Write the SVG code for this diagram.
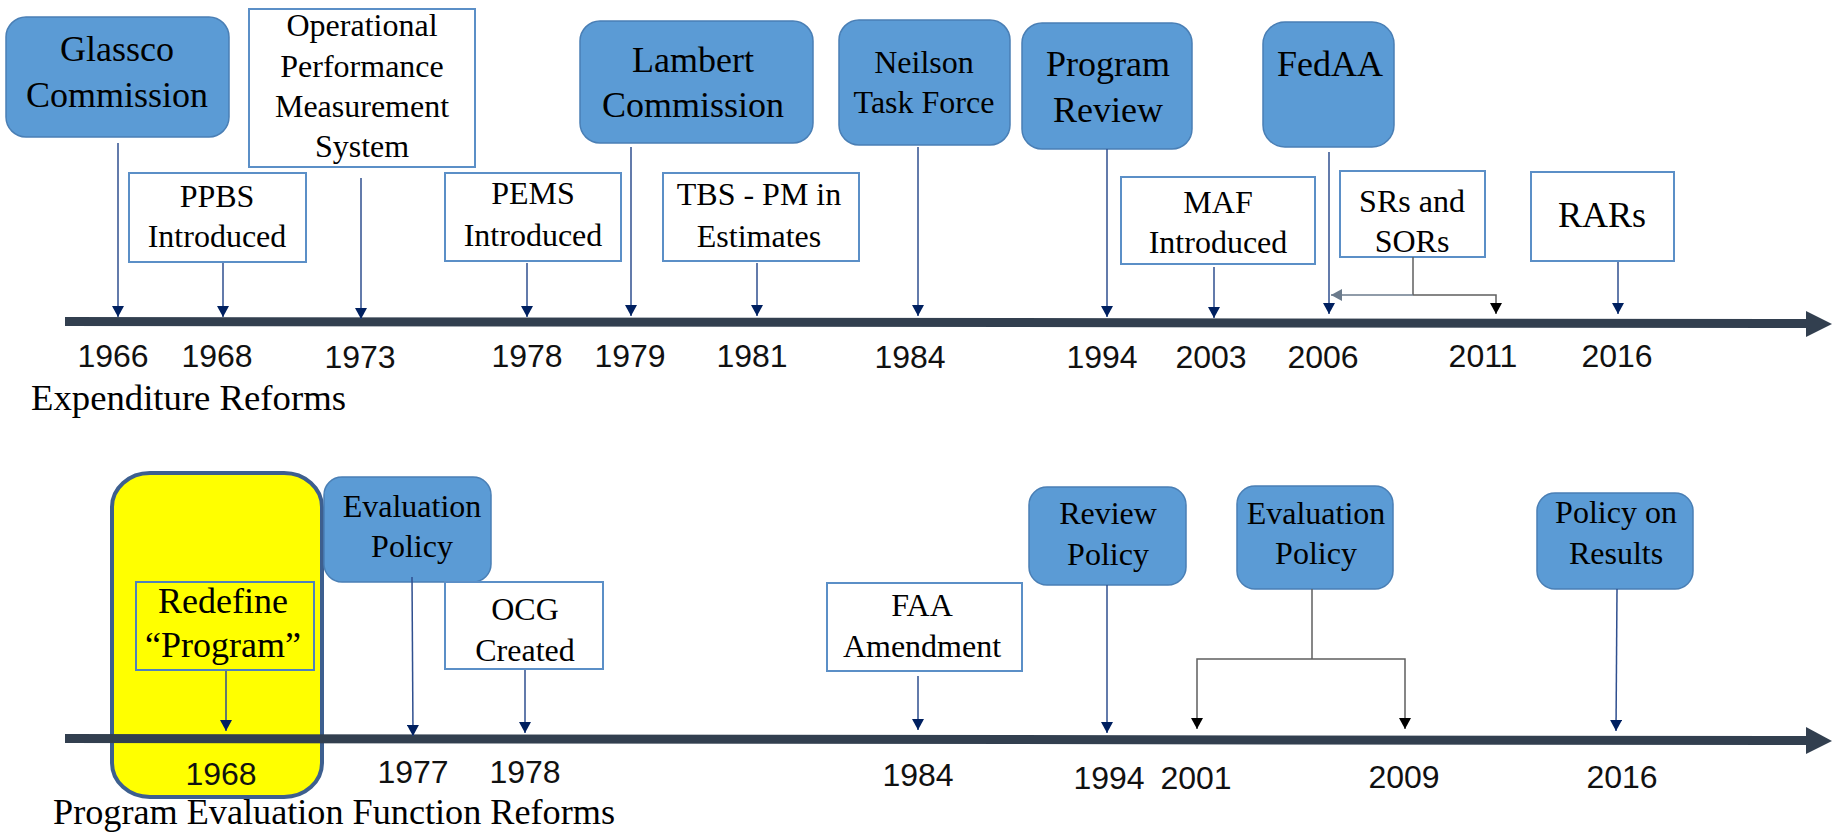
<svg xmlns="http://www.w3.org/2000/svg" width="1839" height="832" viewBox="0 0 1839 832">
<defs>
<style>
.fill{fill:#5b9bd5;stroke:#4a7fb5;stroke-width:1.5}
.out{fill:#fff;stroke:#5b8fc7;stroke-width:2}
.t{font-family:"Liberation Serif",serif;font-size:32px;fill:#000;text-anchor:middle}
.tb{font-family:"Liberation Serif",serif;font-size:36px;fill:#000;text-anchor:middle}
.yr{font-family:"Liberation Sans",Arial,sans-serif;font-size:32px;fill:#111;text-anchor:middle}
.ttl{font-family:"Liberation Serif",serif;font-size:36px;fill:#000}
.ax{stroke:#323f4f;stroke-width:9;fill:none}
.axh{fill:#323f4f}
.c{stroke:#2f4f8f;stroke-width:1.5;fill:none;marker-end:url(#mn)}
.g{stroke:#5f5f5f;stroke-width:1.5;fill:none}
.gk{stroke:#5f5f5f;stroke-width:1.5;fill:none;marker-end:url(#mk)}
</style>
<marker id="mn" markerUnits="userSpaceOnUse" markerWidth="12" markerHeight="12" refX="11" refY="6" orient="auto"><path d="M0,0 L11,6 L0,12 z" fill="#002060"/></marker>
<marker id="mk" markerUnits="userSpaceOnUse" markerWidth="12" markerHeight="12" refX="11" refY="6" orient="auto"><path d="M0,0 L11,6 L0,12 z" fill="#000"/></marker>
<marker id="mg" markerUnits="userSpaceOnUse" markerWidth="12" markerHeight="12" refX="11" refY="6" orient="auto"><path d="M0,0 L11,6 L0,12 z" fill="#6b7b8c"/></marker>
</defs>
<rect width="1839" height="832" fill="#fff"/>

<!-- yellow highlight behind the bottom axis -->
<g id="highlight-1968">
<rect x="112" y="473" width="210" height="324" rx="38" ry="34" fill="#ffff00" stroke="#3d5f8f" stroke-width="4"/>
</g>

<!-- axes -->
<g id="axes">
<line class="ax" x1="65" y1="321.5" x2="1808" y2="323.5"/>
<polygon class="axh" points="1806,311 1832,324 1806,337"/>
<line class="ax" x1="65" y1="738.5" x2="1808" y2="740.5"/>
<polygon class="axh" points="1806,727 1832,741 1806,754"/>
</g>

<!-- top nodes -->
<g id="glassco"><rect class="fill" x="6" y="17" width="223" height="120" rx="20"/><text class="tb" x="117" y="61">Glassco</text><text class="tb" x="117" y="107">Commission</text></g>
<g id="opms"><rect class="out" x="249" y="9" width="226" height="158"/><text class="t" x="362" y="36">Operational</text><text class="t" x="362" y="77">Performance</text><text class="t" x="362" y="117">Measurement</text><text class="t" x="362" y="157">System</text></g>
<g id="ppbs"><rect class="out" x="129" y="173" width="177" height="89"/><text class="t" x="217" y="207">PPBS</text><text class="t" x="217" y="247">Introduced</text></g>
<g id="pems"><rect class="out" x="445" y="173" width="176" height="88"/><text class="t" x="533" y="204">PEMS</text><text class="t" x="533" y="246">Introduced</text></g>
<g id="lambert"><rect class="fill" x="580" y="21" width="233" height="122" rx="20"/><text class="tb" x="693" y="72">Lambert</text><text class="tb" x="693" y="117">Commission</text></g>
<g id="tbs"><rect class="out" x="663" y="173" width="196" height="88"/><text class="t" x="759" y="205">TBS - PM in</text><text class="t" x="759" y="247">Estimates</text></g>
<g id="neilson"><rect class="fill" x="839" y="20" width="171" height="125" rx="20"/><text class="t" x="924" y="73">Neilson</text><text class="t" x="924" y="113">Task Force</text></g>
<g id="program-review"><rect class="fill" x="1022" y="23" width="170" height="126" rx="20"/><text class="tb" x="1108" y="76">Program</text><text class="tb" x="1108" y="122">Review</text></g>
<g id="fedaa"><rect class="fill" x="1263" y="22" width="131" height="125" rx="22"/><text class="tb" x="1330" y="76">FedAA</text></g>
<g id="maf"><rect class="out" x="1121" y="177" width="194" height="87"/><text class="t" x="1218" y="213">MAF</text><text class="t" x="1218" y="253">Introduced</text></g>
<g id="srs"><rect class="out" x="1340" y="171" width="145" height="86"/><text class="t" x="1412" y="212">SRs and</text><text class="t" x="1412" y="252">SORs</text></g>
<g id="rars"><rect class="out" x="1531" y="172" width="143" height="89"/><text class="tb" x="1602" y="227">RARs</text></g>

<!-- bottom nodes -->
<g id="redefine"><rect x="136" y="582" width="178" height="88" fill="none" stroke="#4f81bd" stroke-width="2"/><text class="tb" x="223" y="613">Redefine</text><text class="tb" x="223" y="657">“Program”</text></g>
<g id="eval-1977"><rect class="fill" x="324" y="477" width="167" height="105" rx="18"/><text class="t" x="412" y="517">Evaluation</text><text class="t" x="412" y="557">Policy</text></g>
<g id="ocg"><rect class="out" x="445" y="582" width="158" height="87"/><text class="t" x="525" y="620">OCG</text><text class="t" x="525" y="661">Created</text></g>
<g id="faa"><rect class="out" x="827" y="583" width="195" height="88"/><text class="t" x="922" y="616">FAA</text><text class="t" x="922" y="657">Amendment</text></g>
<g id="review-policy"><rect class="fill" x="1029" y="487" width="157" height="98" rx="18"/><text class="t" x="1108" y="524">Review</text><text class="t" x="1108" y="565">Policy</text></g>
<g id="eval-2001"><rect class="fill" x="1237" y="486" width="156" height="103" rx="18"/><text class="t" x="1316" y="524">Evaluation</text><text class="t" x="1316" y="564">Policy</text></g>
<g id="policy-results"><rect class="fill" x="1537" y="493" width="156" height="96" rx="18"/><text class="t" x="1616" y="523">Policy on</text><text class="t" x="1616" y="564">Results</text></g>

<!-- connectors -->
<g id="connectors">
<line class="c" x1="118" y1="143" x2="118" y2="317"/>
<line class="c" x1="223" y1="263" x2="223" y2="317"/>
<line class="c" x1="361" y1="178" x2="361" y2="319"/>
<line class="c" x1="527" y1="263" x2="527" y2="317"/>
<line class="c" x1="631" y1="147" x2="631" y2="316"/>
<line class="c" x1="757" y1="263" x2="757" y2="316"/>
<line class="c" x1="918" y1="147" x2="918" y2="316"/>
<line class="c" x1="1107" y1="149" x2="1107" y2="317"/>
<line class="c" x1="1214" y1="267" x2="1214" y2="318"/>
<line class="c" x1="1329" y1="152" x2="1329" y2="314"/>
<line class="c" x1="1618" y1="262" x2="1618" y2="314"/>
<line class="g" x1="1413" y1="257" x2="1413" y2="295"/>
<line x1="1413" y1="295" x2="1331" y2="295" stroke="#6b7b8c" stroke-width="1.5" marker-end="url(#mg)"/>
<polyline class="gk" points="1413,295 1496,295 1496,314"/>

<line class="c" x1="226" y1="671" x2="226" y2="731"/>
<line class="c" x1="412" y1="577" x2="413" y2="736"/>
<line class="c" x1="525" y1="670" x2="525" y2="733"/>
<line class="c" x1="918" y1="676" x2="918" y2="730"/>
<line class="c" x1="1107" y1="585" x2="1107" y2="733"/>
<line class="g" x1="1312" y1="589" x2="1312" y2="659"/>
<polyline class="gk" points="1312,659 1197,659 1197,729"/>
<polyline class="gk" points="1312,659 1405,659 1405,729"/>
<line class="c" x1="1617" y1="589" x2="1616" y2="731"/>
</g>

<!-- year labels -->
<g id="years-top">
<text class="yr" x="113" y="367">1966</text>
<text class="yr" x="217" y="367">1968</text>
<text class="yr" x="360" y="368">1973</text>
<text class="yr" x="527" y="367">1978</text>
<text class="yr" x="630" y="367">1979</text>
<text class="yr" x="752" y="367">1981</text>
<text class="yr" x="910" y="368">1984</text>
<text class="yr" x="1102" y="368">1994</text>
<text class="yr" x="1211" y="368">2003</text>
<text class="yr" x="1323" y="368">2006</text>
<text class="yr" x="1483" y="367">2011</text>
<text class="yr" x="1617" y="367">2016</text>
</g>
<g id="years-bottom">
<text class="yr" x="221" y="785">1968</text>
<text class="yr" x="413" y="783">1977</text>
<text class="yr" x="525" y="783">1978</text>
<text class="yr" x="918" y="786">1984</text>
<text class="yr" x="1109" y="789">1994</text>
<text class="yr" x="1196" y="789">2001</text>
<text class="yr" x="1404" y="788">2009</text>
<text class="yr" x="1622" y="788">2016</text>
</g>

<g id="titles">
<text class="ttl" x="31" y="410" textLength="315" lengthAdjust="spacingAndGlyphs">Expenditure Reforms</text>
<text class="ttl" x="53" y="824" textLength="562" lengthAdjust="spacingAndGlyphs">Program Evaluation Function Reforms</text>
</g>
</svg>
